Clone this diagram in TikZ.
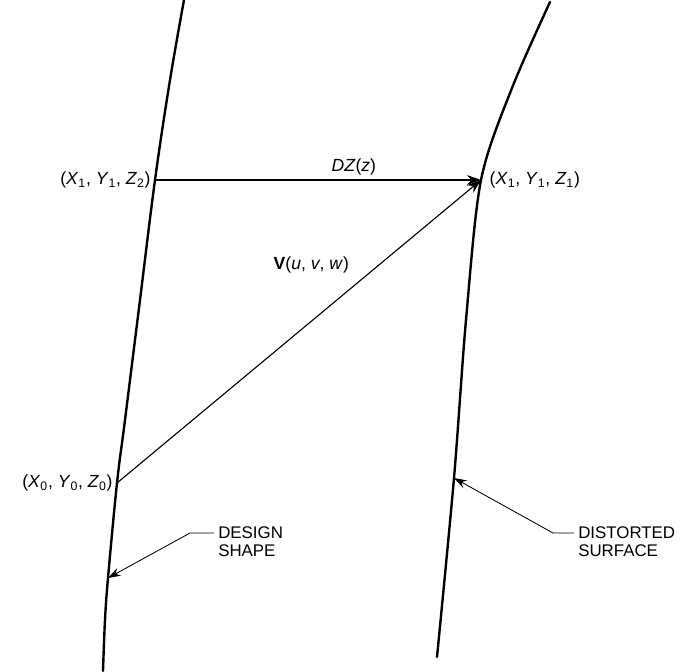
\documentclass[tikz,border=0pt]{standalone}
\usepackage{fontspec}
\setmainfont{Liberation Sans}
\usetikzlibrary{arrows.meta, positioning}
\tikzset{
  surface/.style={line width=1.7pt, line cap=round},
  arrow/.style={-{Stealth[length=10pt, width=7pt]}, line width=0.8pt},
  leader/.style={-{Stealth[length=9pt, width=6pt]}, line width=0.6pt},
  pointlab/.style={font=\fontsize{12.5}{14}\selectfont, inner sep=2pt},
  notelab/.style={font=\fontsize{12}{13}\selectfont, align=left, inner sep=0pt},
}
\newcommand{\sv}[2]{\textit{#1}\textsubscript{#2}}

\begin{document}
\begin{tikzpicture}[x=0.025cm, y=-0.025cm]
  \useasboundingbox (0,0) rectangle (696,671);

  %% ── points on the two surfaces ──────────────────────────────
  \coordinate (p12) at (155,180);
  \coordinate (p0)  at (117,483);
  \coordinate (dtip) at (108,578);
  \coordinate (p11) at (481,180);
  \coordinate (stip) at (454,478);

  %% ── design shape (left) and distorted surface (right) ──────
  \draw[surface] plot[smooth, tension=0.6] coordinates
    {(184,0) (170,80) (p12) (140,300) (125,420) (p0) (dtip) (105,620) (103,671)};
  \draw[surface] plot[smooth, tension=0.5] coordinates
    {(550,2) (512,88) (p11) (466,320) (stip) (437,657)};

  %% ── point labels ────────────────────────────────────────────
  \node[pointlab, anchor=east] (l12) at ([xshift=-1pt]p12)
    {(\sv{X}{1}, \sv{Y}{1}, \sv{Z}{2})};
  \node[pointlab, anchor=west] (l11) at ([xshift=4pt]p11)
    {(\sv{X}{1}, \sv{Y}{1}, \sv{Z}{1})};
  \node[pointlab, anchor=east] (l0) at ([xshift=-1pt]p0)
    {(\sv{X}{0}, \sv{Y}{0}, \sv{Z}{0})};

  %% ── displacement vectors ────────────────────────────────────
  \draw[arrow] (p12) -- node[pointlab, above=1pt, pos=0.61] (dz) {\textit{DZ}(\textit{z})} (p11);
  \draw[arrow] (p0) -- (p11);
  \node[pointlab, anchor=east] (vec) at (352,265)
    {\textbf{V}(\textit{u}, \textit{v}, \textit{w})};

  %% ── notes ───────────────────────────────────────────────────
  \coordinate (dknee) at (190,533);
  \node[notelab, anchor=north west] (design) at (218,526) {DESIGN\\SHAPE};
  \draw[leader] ([xshift=-3pt]design.west |- dknee) -- (dknee) -- (dtip);

  \coordinate (sknee) at (553,533);
  \node[notelab, anchor=north west] (distort) at (578,526) {DISTORTED\\SURFACE};
  \draw[leader] ([xshift=-3pt]distort.west |- sknee) -- (sknee) -- (stip);

\end{tikzpicture}
\end{document}
